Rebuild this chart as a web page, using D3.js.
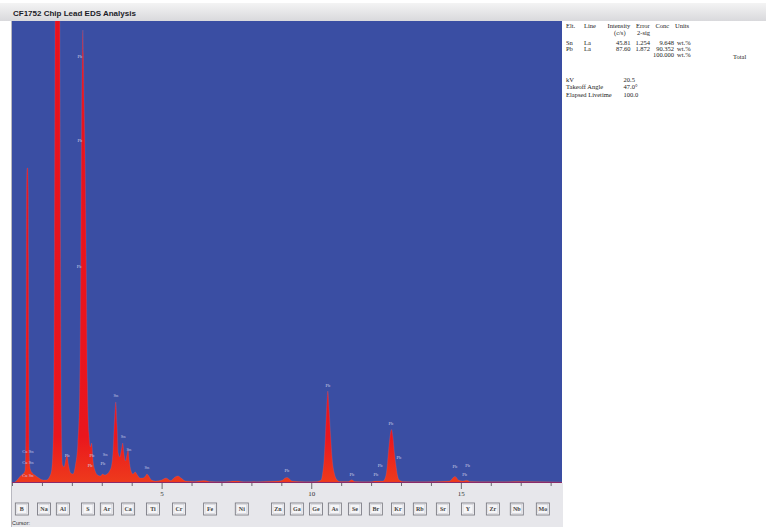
<!DOCTYPE html>
<html>
<head>
<meta charset="utf-8">
<script src="https://cdn.jsdelivr.net/npm/d3@7"></script>
<style>
  body { margin: 0; background: #fff; }
  svg { display: block; }
</style>
</head>
<body>
<script>
// spectrum: energy (keV) and counts
const spectrumKeV = [
  0.00, 0.10, 0.20, 0.28, 0.36, 0.43, 0.455, 0.47, 0.485, 0.505, 0.525, 0.545, 0.56, 0.575, 0.61, 0.68, 0.76,
  0.85, 0.95, 1.05, 1.15, 1.25, 1.33, 1.39, 1.42, 1.445, 1.52, 1.595, 1.62, 1.65, 1.69,
  1.74, 1.80, 1.84, 1.89, 1.96, 2.04, 2.12, 2.20, 2.26, 2.30, 2.33, 2.355, 2.37, 2.385,
  2.41, 2.44, 2.48, 2.52, 2.57, 2.62, 2.66, 2.71, 2.78, 2.86, 2.95, 3.03, 3.10, 3.18,
  3.26, 3.33, 3.38, 3.42, 3.47, 3.51, 3.55, 3.60, 3.66, 3.70, 3.74, 3.79, 3.84, 3.88,
  3.92, 3.97, 4.04, 4.12, 4.19, 4.28, 4.38, 4.46, 4.51, 4.57, 4.66, 4.80, 5.00, 5.15,
  5.30, 5.45, 5.55, 5.65, 5.80, 6.10, 6.40, 6.60, 7.00, 7.50, 7.80, 8.40, 8.90, 9.05,
  9.12, 9.19, 9.26, 9.35, 9.80, 10.20, 10.33, 10.38, 10.43, 10.47, 10.51, 10.555, 10.60,
  10.65, 10.70, 10.77, 10.84, 10.95, 11.25, 11.35, 11.45, 11.90, 12.20, 12.40, 12.47,
  12.52, 12.57, 12.63, 12.685, 12.73, 12.78, 12.83, 12.88, 12.94, 13.05, 13.60, 14.20,
  14.62, 14.70, 14.76, 14.80, 14.85, 14.92, 15.05, 15.20, 15.30, 16.00, 17.00, 18.38
];
const spectrumCounts = [
  0, 5, 20, 35, 45, 60, 150, 600, 1450, 1575, 1575, 1450, 600, 150, 70, 50, 40,
  30, 20, 15, 15, 30, 70, 300, 1200, 2600, 4200, 2600, 1200, 300, 90,
  80, 120, 140, 90, 50, 45, 90, 200, 450, 1100, 1900, 2200, 2265, 2150,
  1900, 1650, 1100, 500, 250, 180, 200, 110, 60, 40, 35, 45, 40, 45,
  60, 90, 170, 300, 405, 290, 150, 130, 170, 200, 150, 110, 140, 165,
  110, 65, 45, 55, 40, 25, 25, 35, 45, 35, 15, 10, 15, 25,
  12, 30, 35, 25, 10, 8, 12, 8, 6, 10, 6, 8, 10, 15,
  25, 28, 22, 10, 6, 8, 15, 50, 120, 230, 360, 460, 360,
  230, 120, 50, 20, 8, 8, 16, 8, 6, 10, 10, 25,
  60, 140, 230, 268, 230, 150, 90, 40, 15, 8, 6, 8,
  10, 20, 30, 33, 28, 15, 10, 14, 8, 6, 7, 5
];

// small peak markers drawn on the spectrum
const markerText = ["Cu Sn", "Cu Sn", "Cu Sn", "Pb", "Pb", "Pb", "Pb", "Pb", "Pb", "Sn", "Pb",
  "Sn", "Sn", "Sn", "Sn", "Pb", "Pb", "Pb", "Pb", "Pb", "Pb", "Pb", "Pb", "Pb", "Pb"];
const markerKeV = [0.53, 0.53, 0.53, 2.27, 2.27, 2.24, 1.84, 2.67, 2.61, 3.11, 3.04,
  3.47, 3.71, 3.91, 4.51, 9.19, 10.56, 11.36, 12.16, 12.30, 12.66, 12.93, 14.80, 15.23, 15.13];
const markerCounts = [150, 95, 30, 2125, 1705, 1075, 130, 130, 80, 135, 90,
  430, 225, 160, 70, 55, 480, 35, 35, 80, 290, 120, 75, 80, 35];

const xTickValues = d3.range(0, 19);
const xTickLabels = [5, 10, 15];

// element buttons under the axis
const buttonElements = ["B", "Na", "Al", "S", "Ar", "Ca", "Ti", "Cr", "Fe", "Ni", "Zn", "Ga",
  "Ge", "As", "Se", "Br", "Kr", "Rb", "Sr", "Y", "Zr", "Nb", "Mo"];
const buttonKeV = [0.33, 1.07, 1.70, 2.54, 3.17, 3.88, 4.71, 5.58, 6.62, 7.68, 8.89, 9.52,
  10.16, 10.79, 11.46, 12.16, 12.90, 13.63, 14.40, 15.24, 16.07, 16.87, 17.74];

// quantification table
const tableElements = ["Sn", "Pb"];
const tableLines = ["La", "La"];
const tableIntensity = ["45.81", "87.60"];
const tableError = ["1.254", "1.872"];
const tableConc = ["9.648", "90.352"];
const tableTotal = "100.000";
const paramNames = ["kV", "Takeoff Angle", "Elapsed Livetime"];
const paramValues = ["20.5", "47.0°", "100.0"];

class EdsChart {
  constructor() {
    this.data = spectrumKeV.map((e, i) => ({ e: e, c: spectrumCounts[i] }));
    this.draw();
  }

  draw() {
    this.width = 766;
    this.height = 527;
    this.plot = { left: 12, right: 562, top: 21, bottom: 483 };

    this.svg = d3.select("body").append("svg")
      .attr("width", this.width)
      .attr("height", this.height);

    this.addFrame();
    this.createScales();
    this.addSpectrum();
    this.addMarkers();
    this.addAxis();
    this.addButtons();
    this.addTable();
  }

  addFrame() {
    const p = this.plot;
    const defs = this.svg.append("defs");

    const tg = defs.append("linearGradient").attr("id", "titleGrad")
      .attr("x1", 0).attr("x2", 0).attr("y1", 0).attr("y2", 1);
    tg.append("stop").attr("offset", 0).attr("stop-color", "#f4f4f4");
    tg.append("stop").attr("offset", 1).attr("stop-color", "#d9d9dc");

    // title bar
    this.svg.append("rect")
      .attr("x", 0).attr("y", 3).attr("width", this.width).attr("height", p.top - 3)
      .attr("fill", "url(#titleGrad)");
    this.svg.append("text")
      .attr("x", 13).attr("y", 16)
      .style("font-family", "'Liberation Sans', Arial, sans-serif")
      .style("font-weight", "bold")
      .style("font-size", "8px")
      .attr("fill", "#1c1c28")
      .text("CF1752 Chip Lead EDS Analysis");

    // blue plot background
    this.svg.append("rect")
      .attr("x", p.left).attr("y", p.top)
      .attr("width", p.right - p.left).attr("height", p.bottom - p.top)
      .attr("fill", "#3a4ea3");
    this.svg.append("line")
      .attr("x1", p.left - 0.5).attr("x2", p.left - 0.5)
      .attr("y1", p.top).attr("y2", this.height)
      .attr("stroke", "#b8b8c0");

    // gray panel under the plot
    this.svg.append("rect")
      .attr("x", p.left).attr("y", p.bottom)
      .attr("width", p.right - p.left + 1).attr("height", this.height - p.bottom)
      .attr("fill", "#e7e7eb");
    this.svg.append("text")
      .attr("x", 12).attr("y", 525)
      .style("font-family", "'Liberation Sans', Arial, sans-serif")
      .style("font-size", "5.5px")
      .attr("fill", "#333")
      .text("Cursor:");

    defs.append("clipPath").attr("id", "plotClip")
      .append("rect")
      .attr("x", p.left).attr("y", p.top)
      .attr("width", p.right - p.left).attr("height", p.bottom - p.top);

    const sg = defs.append("linearGradient").attr("id", "peakGrad")
      .attr("gradientUnits", "userSpaceOnUse")
      .attr("x1", 0).attr("x2", 0).attr("y1", p.top).attr("y2", p.bottom);
    sg.append("stop").attr("offset", 0).attr("stop-color", "#e8121d");
    sg.append("stop").attr("offset", 0.9).attr("stop-color", "#ea161d");
    sg.append("stop").attr("offset", 1).attr("stop-color", "#ee3b1c");
  }

  createScales() {
    const p = this.plot;
    this.xScale = d3.scaleLinear()
      .domain([0, 18.38])
      .range([p.left, p.right]);
    this.yScale = d3.scaleLinear()
      .domain([0, 2310])
      .range([p.bottom, p.top]);
  }

  addSpectrum() {
    const g = this.svg.append("g").attr("clip-path", "url(#plotClip)");

    const area = d3.area()
      .x(d => this.xScale(d.e))
      .y0(this.yScale(0))
      .y1(d => this.yScale(d.c))
      .curve(d3.curveMonotoneX);

    g.append("path")
      .datum(this.data)
      .attr("d", area)
      .attr("fill", "url(#peakGrad)");

    // pale outline along the peak tops
    const line = d3.line()
      .x(d => this.xScale(d.e))
      .y(d => this.yScale(d.c))
      .curve(d3.curveMonotoneX);

    g.append("path")
      .datum(this.data)
      .attr("d", line)
      .attr("fill", "none")
      .attr("stroke", "#f08a9a")
      .attr("stroke-opacity", 0.3)
      .attr("stroke-width", 0.5);

    // baseline
    g.append("line")
      .attr("x1", this.plot.left).attr("x2", this.plot.right)
      .attr("y1", this.plot.bottom - 0.5).attr("y2", this.plot.bottom - 0.5)
      .attr("stroke", "#8a2a6a");
  }

  addMarkers() {
    const data = markerText.map((t, i) => ({ t: t, e: markerKeV[i], c: markerCounts[i] }));
    this.svg.append("g")
      .selectAll("text")
      .data(data)
      .enter()
      .append("text")
      .attr("x", d => this.xScale(d.e))
      .attr("y", d => this.yScale(d.c))
      .attr("text-anchor", "middle")
      .style("font-family", "'Liberation Serif', serif")
      .style("font-size", "4.5px")
      .attr("fill", "#c9c9e4")
      .text(d => d.t);
  }

  addAxis() {
    const xAxis = d3.axisBottom(this.xScale)
      .tickValues(xTickValues)
      .tickSize(3)
      .tickPadding(5)
      .tickFormat(d => xTickLabels.includes(d) ? d : "");

    const ax = this.svg.append("g")
      .attr("transform", `translate(0, ${this.plot.bottom})`)
      .call(xAxis);
    ax.select(".domain").remove();
    ax.selectAll(".tick line")
      .attr("stroke", "#6a6a72")
      .attr("y2", d => xTickLabels.includes(d) ? 6 : 3);
    ax.selectAll(".tick text")
      .style("font-family", "'Liberation Serif', serif")
      .style("font-size", "7px")
      .attr("fill", "#333");
  }

  addButtons() {
    const data = buttonElements.map((el, i) => ({ el: el, e: buttonKeV[i] }));
    const btn = this.svg.append("g")
      .selectAll("g")
      .data(data)
      .enter()
      .append("g")
      .attr("transform", d => `translate(${this.xScale(d.e) - 6.5}, 503)`);

    btn.append("rect")
      .attr("width", 13).attr("height", 12)
      .attr("fill", "#f5f5f7")
      .attr("stroke", "#7c7c84")
      .attr("stroke-width", 0.9);
    btn.append("rect")
      .attr("x", 1.5).attr("y", 1.5).attr("width", 10).attr("height", 9)
      .attr("fill", "none")
      .attr("stroke", "#c4c4cc")
      .attr("stroke-width", 0.5);
    btn.append("text")
      .attr("x", 6.5).attr("y", 8.3)
      .attr("text-anchor", "middle")
      .style("font-family", "'Liberation Serif', serif")
      .style("font-weight", "bold")
      .style("font-size", "6px")
      .attr("fill", "#444")
      .text(d => d.el);
  }

  addTable() {
    const t = this.svg.append("g")
      .style("font-family", "'Liberation Serif', 'Times New Roman', serif")
      .style("font-size", "6.5px")
      .attr("fill", "#222");

    const put = (x, y, s, anchor) => t.append("text")
      .attr("x", x).attr("y", y)
      .attr("text-anchor", anchor || "start")
      .text(s);

    // header
    put(566, 28, "Elt.");
    put(584, 28, "Line");
    put(607.5, 28, "Intensity");
    put(636, 28, "Error");
    put(655.5, 28, "Conc");
    put(675, 28, "Units");
    put(614, 34.5, "(c/s)");
    put(637, 34.5, "2-sig");

    // rows
    tableElements.forEach((el, i) => {
      const y = 44.5 + i * 6;
      put(566, y, el);
      put(584, y, tableLines[i]);
      put(630.5, y, tableIntensity[i], "end");
      put(650, y, tableError[i], "end");
      put(674, y, tableConc[i], "end");
      put(677, y, "wt.%");
    });
    put(674, 57, tableTotal, "end");
    put(677, 57, "wt.%");
    put(733, 58.5, "Total");

    // acquisition parameters
    paramNames.forEach((n, i) => {
      const y = 81.5 + i * 7.5;
      put(566, y, n);
      put(623.5, y, paramValues[i]);
    });
  }
}

new EdsChart();
</script>
</body>
</html>
